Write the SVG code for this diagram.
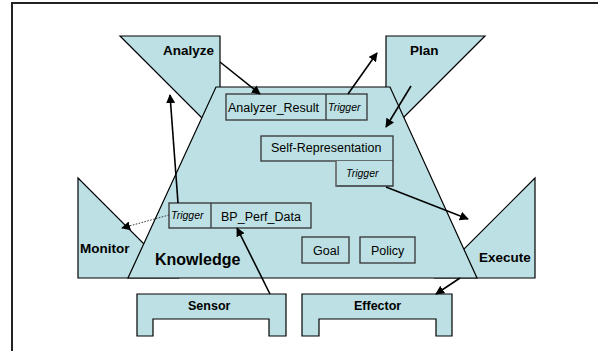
<svg xmlns="http://www.w3.org/2000/svg" width="598" height="351" viewBox="0 0 598 351">
<style>
.sh{fill:#bce0e3;stroke:#000;stroke-width:1.2;stroke-linejoin:miter}
.bx{fill:#bce0e3;stroke:#333;stroke-width:1.3}
.lb{font-family:"Liberation Sans",Arial,sans-serif;font-weight:bold;fill:#000}
.tx{font-family:"Liberation Sans",Arial,sans-serif;font-size:12.5px;fill:#000}
.tr{font-family:"Liberation Sans",Arial,sans-serif;font-size:10.5px;font-style:italic;fill:#000}
.ar{stroke:#000;stroke-width:1.6;fill:none;marker-end:url(#ah)}
.dt{stroke:#333;stroke-width:1;stroke-dasharray:1.5 1.5;fill:none;marker-end:url(#ah)}
</style>
<defs>
<marker id="ah" viewBox="0 0 10 10" refX="9" refY="5" markerWidth="9" markerHeight="9" markerUnits="userSpaceOnUse" orient="auto">
<path d="M0,0 L10,5 L0,10 Z" fill="#000"/>
</marker>
</defs>
<rect width="598" height="351" fill="#fff"/>
<g id="frame">
<path d="M12,351 V3 H598" fill="none" stroke="#222" stroke-width="2"/>
</g>
<g id="analyze">
<polygon class="sh" points="120,36 220,36 220,136"/>
<text class="lb" x="163" y="55" font-size="13.5">Analyze</text>
</g>
<g id="plan">
<polygon class="sh" points="386,36 485,36 386,135"/>
<text class="lb" x="410" y="55" font-size="13.5">Plan</text>
</g>
<g id="monitor">
<polygon class="sh" points="78,178 78,278 178,278"/>
<text class="lb" x="80" y="253" font-size="13.5">Monitor</text>
</g>
<g id="execute">
<polygon class="sh" points="535,178 535,278 435,278"/>
<text class="lb" x="479" y="262" font-size="13.5">Execute</text>
</g>
<g id="knowledge">
<polygon class="sh" points="216,87 390,87 477,278 128,278"/>
<text class="lb" x="155" y="265" font-size="16">Knowledge</text>
</g>
<g id="analyzer_result">
<rect class="bx" x="226" y="94" width="141" height="26"/>
<line x1="326" y1="94" x2="326" y2="120" stroke="#333" stroke-width="1.3"/>
<text class="tx" x="228" y="111.5">Analyzer_Result</text>
<text class="tr" x="328" y="111">Trigger</text>
</g>
<g id="self_representation">
<rect class="bx" x="261" y="136" width="132" height="25"/>
<text class="tx" x="271" y="152">Self-Representation</text>
<polyline points="336,161 336,186 393,186 393,161" fill="#bce0e3" stroke="#333" stroke-width="1.3"/>
<line x1="336" y1="161" x2="336" y2="186" stroke="#888" stroke-width="1"/>
<text class="tr" x="346" y="177">Trigger</text>
</g>
<g id="bp_perf_data">
<rect class="bx" x="169" y="203" width="142" height="25"/>
<line x1="211" y1="203" x2="211" y2="228" stroke="#333" stroke-width="1.3"/>
<text class="tr" x="171" y="219">Trigger</text>
<text class="tx" x="221" y="221">BP_Perf_Data</text>
</g>
<g id="goal">
<rect class="bx" x="302" y="237" width="47" height="26"/>
<text class="tx" x="313" y="255">Goal</text>
</g>
<g id="policy">
<rect class="bx" x="360" y="237" width="55" height="26"/>
<text class="tx" x="371" y="255">Policy</text>
</g>
<g id="sensor">
<polygon class="sh" points="137,294 286,294 286,336 269,336 269,319 153,319 153,336 137,336"/>
<text class="lb" x="188" y="310" font-size="12.5">Sensor</text>
</g>
<g id="effector">
<polygon class="sh" points="302,294 452,294 452,336 436,336 436,319 319,319 319,336 302,336"/>
<text class="lb" x="354" y="310" font-size="12.5">Effector</text>
</g>
<g id="connectors">
<line class="ar" x1="220" y1="62" x2="260" y2="94"/>
<line class="ar" x1="348" y1="94" x2="377" y2="53"/>
<line class="ar" x1="411" y1="86" x2="386" y2="127"/>
<line class="ar" x1="386" y1="187" x2="468" y2="219"/>
<line class="ar" x1="460" y1="278" x2="436" y2="294"/>
<line class="ar" x1="270" y1="294" x2="237" y2="228"/>
<line class="ar" x1="178" y1="203" x2="170" y2="95"/>
<line class="dt" x1="169" y1="215" x2="122" y2="228"/>
</g>
</svg>
